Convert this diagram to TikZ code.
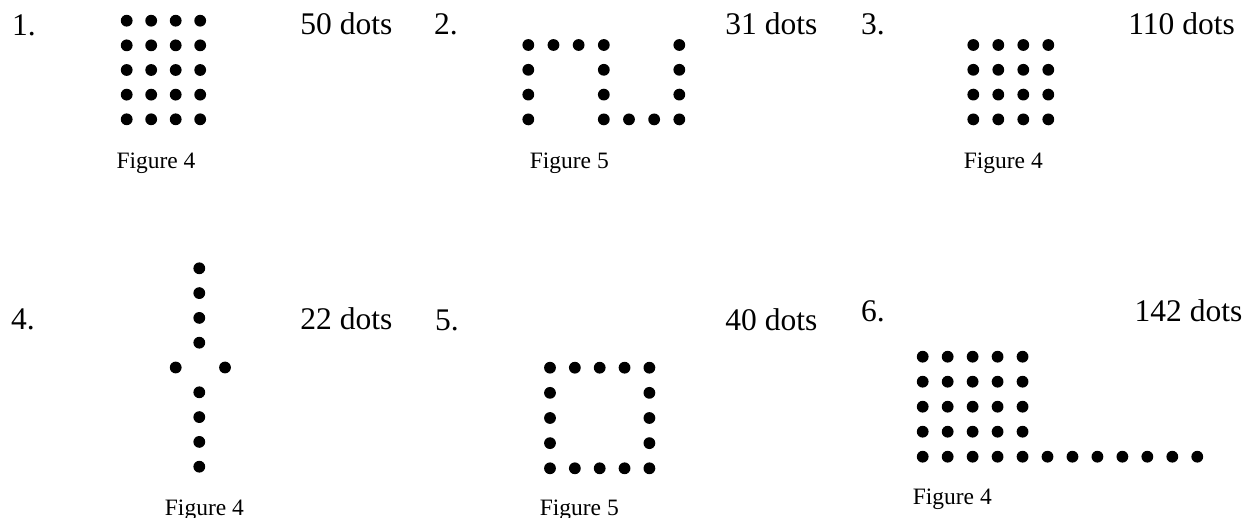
\documentclass[tikz,border=0pt]{standalone}
\usepackage{fontspec}
\setmainfont{Liberation Serif}
\begin{document}
\begin{tikzpicture}[x=1pt,y=-1pt,
  dotnode/.style={circle,fill=black,inner sep=0pt,minimum size=11.8pt},
  numlabel/.style={anchor=base west,inner sep=0pt,font=\fontsize{31.5}{36}\selectfont},
  countlabel/.style={anchor=base east,inner sep=0pt,font=\fontsize{31.5}{36}\selectfont},
  figlabel/.style={anchor=base west,inner sep=0pt,font=\fontsize{23.5}{28}\selectfont}]
\useasboundingbox (0,0) rectangle (1248,518);
% ---------- Panel 1 ----------
\node[numlabel] (n1) at (12,35.5) {1.};
\node[countlabel] (c1) at (392.5,34.5) {50 dots};
\foreach \i in {0,...,3}
  \foreach \j in {0,...,4}
    \node[dotnode] (a-\i-\j) at ({126.7+24.5*\i},{20.7+24.65*\j}) {};
\node[figlabel] (f1) at (116.3,169) {Figure 4};
% ---------- Panel 2 ----------
\node[numlabel] (n2) at (434,35) {2.};
\node[countlabel] (c2) at (817.5,34.5) {31 dots};
\foreach \i in {0,...,3}
  \node[dotnode] (b-top-\i) at ({528.3+25.17*\i},45) {};
\node[dotnode] (b-top-6) at ({528.3+25.17*6},45) {};
\foreach \j in {1,2}
  \foreach \i in {0,3,6}
    \node[dotnode] (b-\i-\j) at ({528.3+25.17*\i},{45+24.8*\j}) {};
\foreach \i in {0,3,4,5,6}
  \node[dotnode] (b-bot-\i) at ({528.3+25.17*\i},119.4) {};
\node[figlabel] (f2) at (529.6,169) {Figure 5};
% ---------- Panel 3 ----------
\node[numlabel] (n3) at (861,35) {3.};
\node[countlabel] (c3) at (1235,34.5) {110 dots};
\foreach \i in {0,...,3}
  \foreach \j in {0,...,3}
    \node[dotnode] (c-\i-\j) at ({973.3+25*\i},{45+24.8*\j}) {};
\node[figlabel] (f3) at (963.6,169) {Figure 4};
% ---------- Panel 4 ----------
\node[numlabel] (n4) at (11,330) {4.};
\node[countlabel] (c4) at (392.5,330) {22 dots};
\foreach \k in {0,1,2,3,5,6,7,8}
  \node[dotnode] (d-\k) at (199.3,{268.3+24.8*\k}) {};
\node[dotnode] (d-left) at (175.7,367.5) {};
\node[dotnode] (d-right) at (225,367.5) {};
\node[figlabel] (f4) at (164.7,515) {Figure 4};
% ---------- Panel 5 ----------
\node[numlabel] (n5) at (435,331) {5.};
\node[countlabel] (c5) at (817.5,331) {40 dots};
\foreach \i in {0,...,4} {
  \node[dotnode] (e-t-\i) at ({550+24.85*\i},367.7) {};
  \node[dotnode] (e-b-\i) at ({550+24.85*\i},468.3) {};
}
\foreach \j in {1,2,3} {
  \node[dotnode] (e-l-\j) at (550,{367.7+25.15*\j}) {};
  \node[dotnode] (e-r-\j) at (649.4,{367.7+25.15*\j}) {};
}
\node[figlabel] (f5) at (539.6,515) {Figure 5};
% ---------- Panel 6 ----------
\node[numlabel] (n6) at (861,321.5) {6.};
\node[countlabel] (c6) at (1242.5,321.5) {142 dots};
\foreach \i in {0,...,4}
  \foreach \j in {0,...,3}
    \node[dotnode] (g-\i-\j) at ({922.7+24.96*\i},{356.7+25*\j}) {};
\foreach \i in {0,...,11}
  \node[dotnode] (g-\i-4) at ({922.7+24.96*\i},456.7) {};
\node[figlabel] (f6) at (912.6,504.3) {Figure 4};
\end{tikzpicture}
\end{document}
